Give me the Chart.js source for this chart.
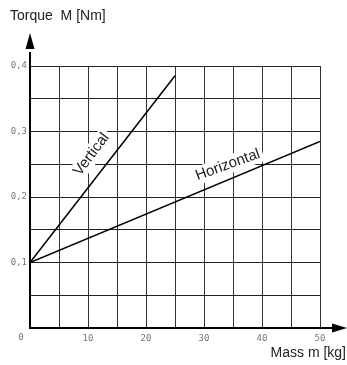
<!DOCTYPE html>
<html><head><meta charset="utf-8">
<script src="https://cdn.jsdelivr.net/npm/chart.js@4/dist/chart.umd.min.js"></script>
<style>html,body{margin:0;padding:0;background:#fff}#wrap{width:347px;height:365px;position:relative}</style>
</head><body><div id="wrap"><canvas id="c" width="347" height="365"></canvas></div>
<script>
const verticalMass = [0, 25];
const verticalTorque = [0.1, 0.385];
const horizontalMass = [0, 50];
const horizontalTorque = [0.1, 0.285];
const xTickLabels = {10:'10',20:'20',30:'30',40:'40',50:'50'};
const yTickLabels = {1:'0,1',2:'0,2',3:'0,3',4:'0,4'};
const curveLabels = [
  {text:'Vertical', x:10.6, y:0.265, angle:-53},
  {text:'Horizontal', x:34.1, y:0.249, angle:-20}
];
const yTitle = 'Torque  M [Nm]';
const xTitle = 'Mass m [kg]';

const deco = {
  id:'deco',
  beforeDatasetsDraw(chart){
    const ctx = chart.ctx, xs = chart.scales.x, ys = chart.scales.y;
    ctx.save();
    ctx.font = '15px "Liberation Sans", Arial';
    ctx.textAlign='center'; ctx.textBaseline='middle';
    curveLabels.forEach(l=>{
      const w = ctx.measureText(l.text).width;
      ctx.save();
      ctx.translate(xs.getPixelForValue(l.x), ys.getPixelForValue(l.y));
      ctx.rotate(l.angle*Math.PI/180);
      ctx.fillStyle = '#fff';
      ctx.fillRect(-w/2-3, -9, w+6, 18);
      ctx.fillStyle = '#222';
      ctx.fillText(l.text, 0, 0);
      ctx.restore();
    });
    ctx.restore();
  },
  afterDraw(chart){
    const ctx = chart.ctx, xs = chart.scales.x, ys = chart.scales.y;
    const x0 = xs.getPixelForValue(0), y0 = ys.getPixelForValue(0);
    ctx.save();
    ctx.strokeStyle = '#000'; ctx.fillStyle = '#000'; ctx.lineWidth = 2;
    ctx.beginPath(); ctx.moveTo(x0, y0+1); ctx.lineTo(x0, ys.getPixelForValue(0.4)-14); ctx.stroke();
    const ty = ys.getPixelForValue(0.4)-33;
    ctx.beginPath(); ctx.moveTo(x0, ty); ctx.lineTo(x0-4.5, ty+16); ctx.lineTo(x0+4.5, ty+16); ctx.closePath(); ctx.fill();
    ctx.beginPath(); ctx.moveTo(x0-1, y0); ctx.lineTo(xs.getPixelForValue(50)+14, y0); ctx.stroke();
    const tx = xs.getPixelForValue(50)+27;
    ctx.beginPath(); ctx.moveTo(tx, y0); ctx.lineTo(tx-15, y0-4.5); ctx.lineTo(tx-15, y0+4.5); ctx.closePath(); ctx.fill();
    ctx.font = '9px "DejaVu Sans Mono"'; ctx.fillStyle = '#777'; ctx.textAlign='center'; ctx.textBaseline='middle';
    ctx.fillText('0', x0-9, y0+10);
    ctx.fillStyle = '#222';
    ctx.font = '14px "Liberation Sans", Arial'; ctx.textBaseline='alphabetic';
    ctx.textAlign='left'; ctx.fillText(yTitle, 10, 20);
    ctx.textAlign='right'; ctx.fillText(xTitle, 346, 357);
    ctx.restore();
  }
};

new Chart(document.getElementById('c'), {
  type:'scatter',
  data:{datasets:[
    {data: verticalMass.map((m,i)=>({x:m,y:verticalTorque[i]})), showLine:true, borderColor:'#000', borderWidth:1.5, pointRadius:0},
    {data: horizontalMass.map((m,i)=>({x:m,y:horizontalTorque[i]})), showLine:true, borderColor:'#000', borderWidth:1.5, pointRadius:0}
  ]},
  options:{
    responsive:false, animation:false, devicePixelRatio:1,
    layout:{padding:{top:66,right:27,left:0,bottom:0}},
    plugins:{legend:{display:false}, tooltip:{enabled:false}},
    scales:{
      x:{type:'linear', min:0, max:50,
        afterFit(s){s.height=37;},
        border:{display:false},
        grid:{color:'#333', lineWidth:1, drawTicks:false},
        ticks:{stepSize:5, autoSkip:false, maxRotation:0, padding:5, color:'#777', font:{family:'"DejaVu Sans Mono"', size:9},
          callback:v=>xTickLabels[Math.round(v)]||''}
      },
      y:{type:'linear', min:0, max:0.4,
        afterFit(s){s.width=30;},
        border:{display:false},
        grid:{color:'#222', lineWidth:1, drawTicks:false},
        ticks:{stepSize:0.05, autoSkip:false, padding:3, color:'#777', font:{family:'"DejaVu Sans Mono"', size:9},
          callback:v=>{const k=Math.round(v*20); return k%2===0 ? (yTickLabels[k/2]||'') : '';}}
      }
    }
  },
  plugins:[deco]
});
</script></body></html>
